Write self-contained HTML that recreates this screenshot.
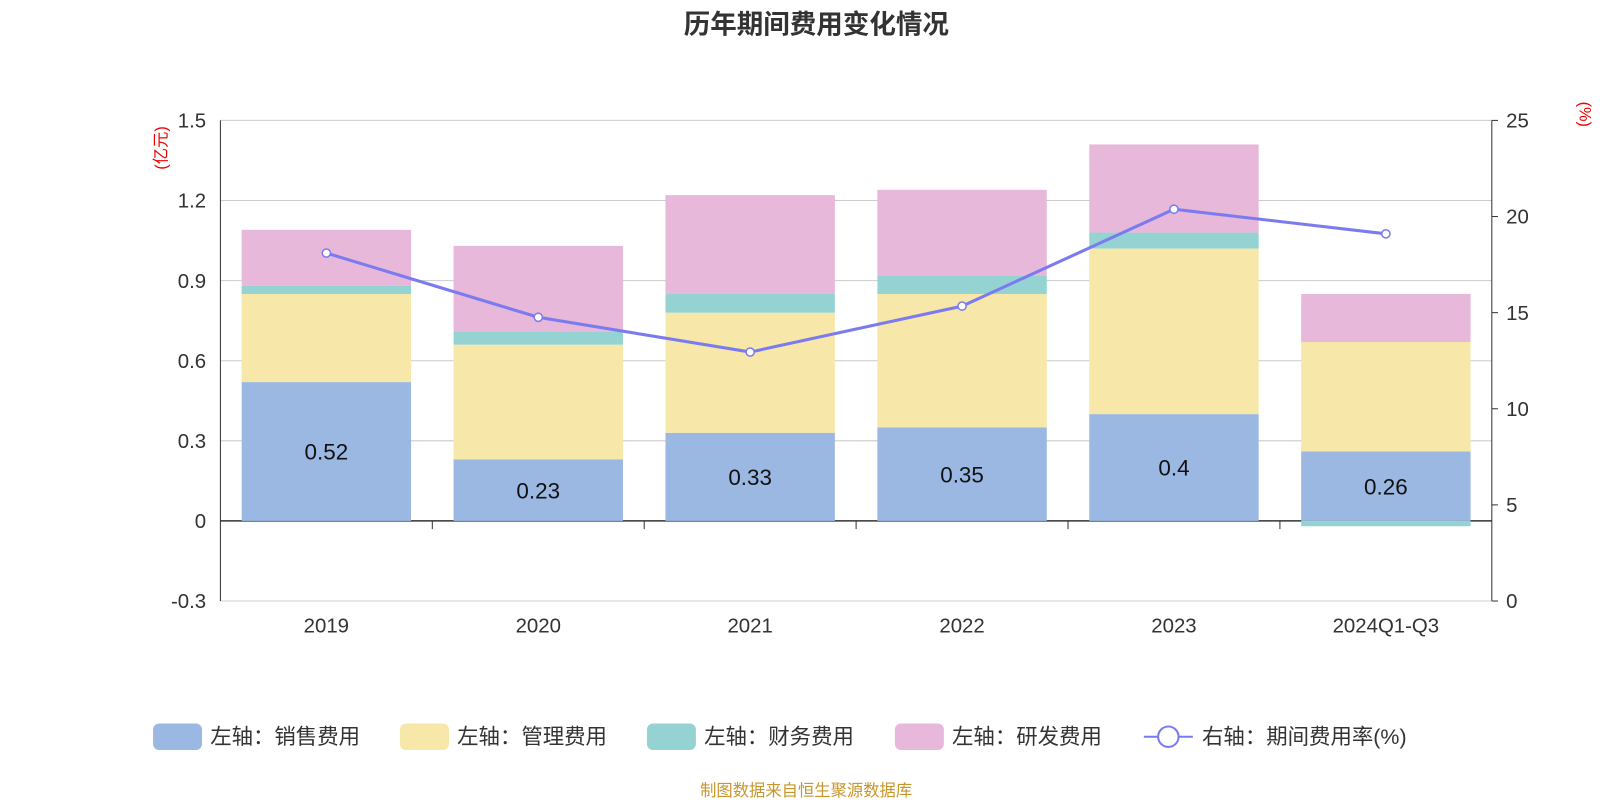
<!DOCTYPE html>
<html><head><meta charset="utf-8"><style>
body{margin:0;background:#fff;font-family:"Liberation Sans","Noto Sans CJK SC",sans-serif}
</style></head><body>
<svg id="c" width="1600" height="800" xmlns="http://www.w3.org/2000/svg" font-family="'Liberation Sans','Noto Sans CJK SC',sans-serif">
<g transform="scale(1.0204)">
<text x="800" y="33" text-anchor="middle" font-size="26" font-weight="bold" fill="#333">历年期间费用变化情况</text>
<text transform="translate(163,145) rotate(-90)" text-anchor="middle" font-size="16" fill="#e00">(亿元)</text>
<text transform="translate(1548,112) rotate(90)" text-anchor="middle" font-size="16" fill="#e00">(%)</text>
<g id="grid"></g><g id="bars"></g><g id="line"></g><g id="axes"></g>
<g id="legend" font-size="21" fill="#333">
<rect x="150" y="709" width="48" height="26" rx="6" fill="#9bb8e2"/><text x="206" y="729">左轴：销售费用</text>
<rect x="392" y="709" width="48" height="26" rx="6" fill="#f7e7a8"/><text x="448" y="729">左轴：管理费用</text>
<rect x="634" y="709" width="48" height="26" rx="6" fill="#95d3d3"/><text x="690" y="729">左轴：财务费用</text>
<rect x="877" y="709" width="48" height="26" rx="6" fill="#e7b8d9"/><text x="933" y="729">左轴：研发费用</text>
<line x1="1121" y1="722" x2="1169" y2="722" stroke="#7b7bf0" stroke-width="2"/><circle cx="1145" cy="722" r="10" fill="#fff" stroke="#7b7bf0" stroke-width="2"/><text x="1178" y="729">右轴：期间费用率(%)</text>
</g>
<text x="790" y="780" text-anchor="middle" font-size="16" fill="#c8962a">制图数据来自恒生聚源数据库</text>
</g>
</svg>
<script>
const categories=["2019","2020","2021","2022","2023","2024Q1-Q3"];
const sales=[0.52,0.23,0.33,0.35,0.40,0.26];
const admin=[0.33,0.43,0.45,0.50,0.62,0.41];
const finance=[0.03,0.05,0.07,0.07,0.06,-0.02];
const rd=[0.21,0.32,0.37,0.32,0.33,0.18];
const rate=[18.1,14.76,12.95,15.34,20.38,19.1];
const leftTicks=[-0.3,0,0.3,0.6,0.9,1.2,1.5];
const rightTicks=[0,5,10,15,20,25];
const ns="http://www.w3.org/2000/svg";
const L=216,R=1462,T=118,B=589;
const yL=v=>B-(v+0.3)/1.8*(B-T);
const yR=v=>B-v/25*(B-T);
const bw=(R-L)/categories.length;
const xC=i=>L+bw*(i+0.5);
function mk(tag,attrs,parent,text){const e=document.createElementNS(ns,tag);for(const k in attrs)e.setAttribute(k,attrs[k]);if(text!=null)e.textContent=text;document.getElementById(parent).appendChild(e);return e;}
leftTicks.forEach(t=>{
 const g=mk('line',{x1:L,x2:R,y1:yL(t),y2:yL(t),stroke:t===0?'#333':'#ccc','stroke-width':t===0?1.5:1},'grid');
 
 
 const tx=mk('text',{x:L-14,y:yL(t)+7,'text-anchor':'end','font-size':20,fill:'#333'},'axes',String(t));
 
 
});
rightTicks.forEach(t=>{
 const tx=mk('text',{x:R+14,y:yR(t)+7,'font-size':20,fill:'#333'},'axes',String(t));
 
 
 mk('line',{x1:R,x2:R+6,y1:yR(t),y2:yR(t),stroke:'#333'},'axes');
});
mk('line',{x1:L,x2:L,y1:T,y2:B,stroke:'#333'},'axes');
mk('line',{x1:R,x2:R,y1:T,y2:B,stroke:'#333'},'axes');
categories.forEach((c,i)=>{
 const tx=mk('text',{x:xC(i),y:620,'text-anchor':'middle','font-size':20,fill:'#333'},'axes',c);
 
 
 if(i>0)mk('line',{x1:L+bw*i,x2:L+bw*i,y1:yL(0),y2:yL(0)+8,stroke:'#333'},'axes');
 const series=[[sales,'#9bb8e2','bar-sales'],[admin,'#f7e7a8','bar-admin'],[finance,'#95d3d3','bar-finance'],[rd,'#e7b8d9','bar-rd']];
 let pos=0,neg=0;const w=166;
 series.forEach(([arr,col,nm])=>{
  const v=arr[i];let y0,y1;
  if(v>=0){y0=pos;y1=pos+v;pos=y1;}else{y0=neg+v;y1=neg;neg=y0;}
  const r=mk('rect',{x:xC(i)-w/2,y:yL(y1),width:w,height:Math.max(0,yL(y0)-yL(y1)),fill:col},'bars');
  
  
 });
 const lb=mk('text',{x:xC(i),y:yL(sales[i]/2)+8,'text-anchor':'middle','font-size':22,fill:'#111'},'bars',String(sales[i]));
 
 
});
const pl=mk('polyline',{points:rate.map((v,i)=>xC(i)+','+yR(v)).join(' '),fill:'none',stroke:'#7b7bf0','stroke-width':3},'line');


rate.forEach((v,i)=>{
 const p=mk('circle',{cx:xC(i),cy:yR(v),r:4,fill:'#fff',stroke:'#7b7bf0','stroke-width':1.5},'line');
 
 
});
</script>
</body></html>
